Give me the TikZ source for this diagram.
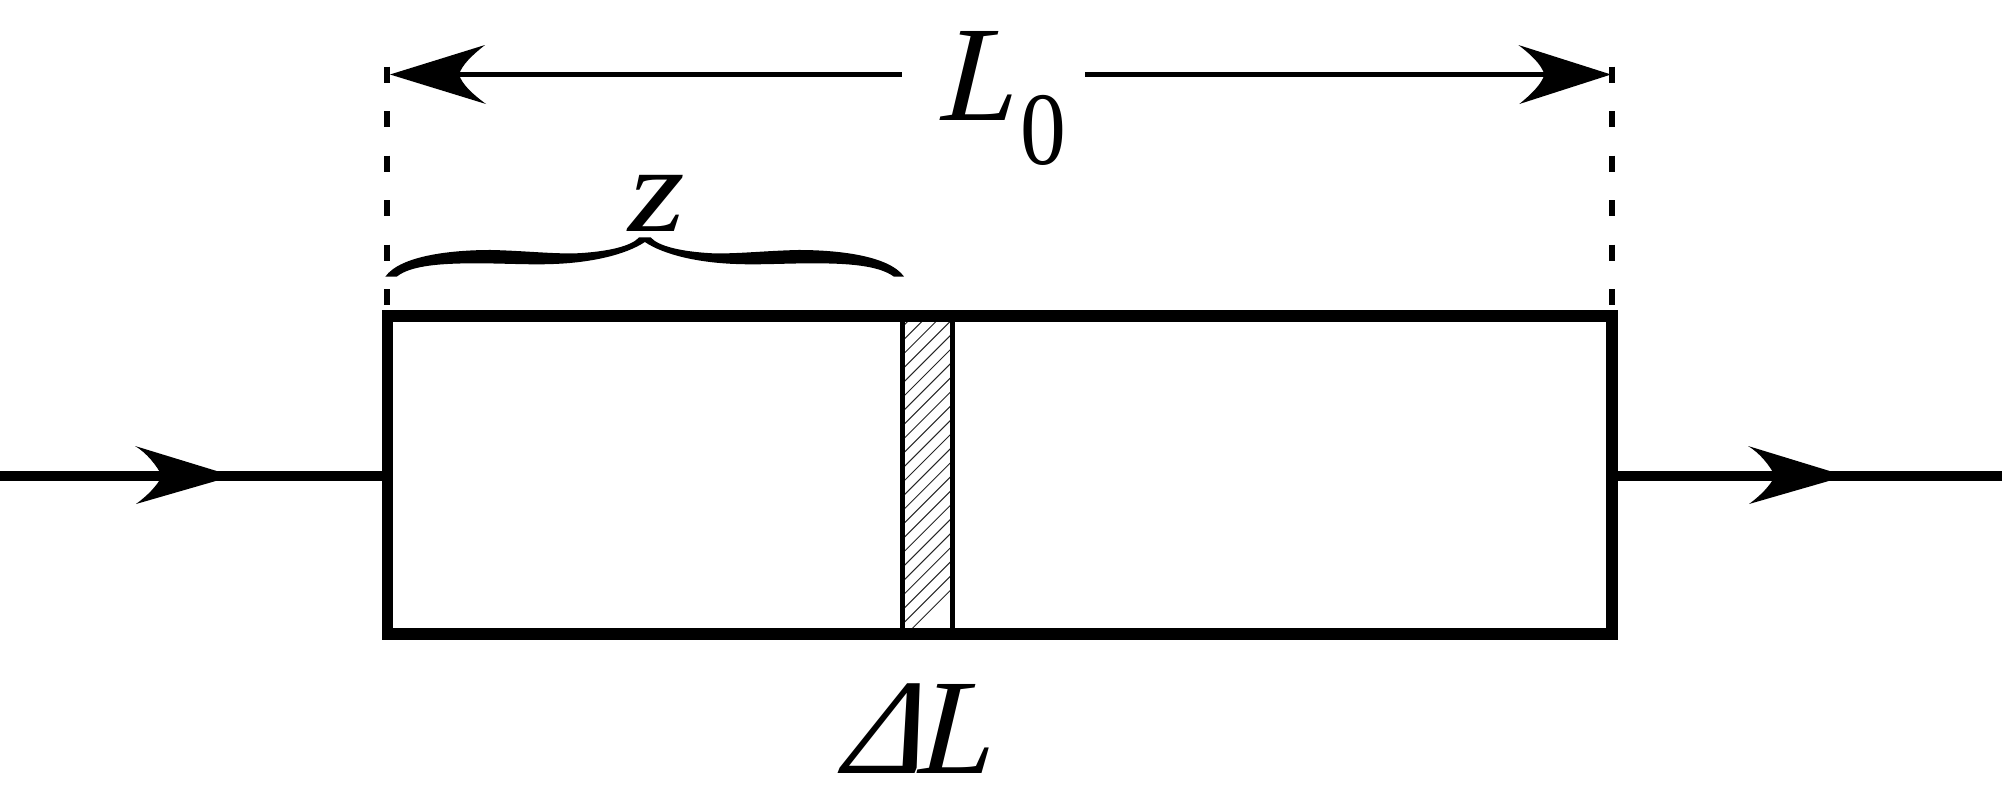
\documentclass[tikz,border=0pt]{standalone}
\usepackage{fontspec}
\setmainfont{Liberation Serif}
\begin{document}
\begin{tikzpicture}[x=1pt,y=-1pt,
  wall/.style={draw=black,line width=11.5pt,miter limit=10},
  piston/.style={draw=black,line width=5.4pt},
  wire/.style={draw=black,line width=10.5pt},
  dim/.style={draw=black,line width=5.5pt},
  guide/.style={draw=black,line width=6pt,dash pattern=on 16pt off 28.5pt},
  hatchline/.style={draw=black!85,line width=1pt},
  bigit/.style={inner sep=0pt,anchor=base west,font=\fontsize{136}{136}\selectfont\itshape},
  bigrm/.style={inner sep=0pt,anchor=base west,font=\fontsize{104}{104}\selectfont},
  midhead/.pic={\fill[black] (0,0) -- (-98,-30) .. controls (-86,-23) and (-76,-10) .. (-71,0) .. controls (-76,10) and (-86,20) .. (-97,28) -- cycle;},
  dimhead/.pic={\fill[black] (0,0) -- (-96,-29.5) .. controls (-83,-20) and (-72,-10) .. (-69,0) .. controls (-72,10) and (-83,20) .. (-95,29.5) -- cycle;}
]
\useasboundingbox (0,0) rectangle (2002,803);
% corners
\coordinate (tl) at (387.5,316);
\coordinate (br) at (1612,634);
\coordinate (wl) at (0,476);
\coordinate (wli) at (382,476);
\coordinate (wri) at (1618,476);
\coordinate (wr) at (2002,476);
\coordinate (tipl) at (390,74.5);
\coordinate (tipr) at (1611,74.5);
\coordinate (dl) at (440,74.5);
\coordinate (dli) at (902,74.5);
\coordinate (dri) at (1085,74.5);
\coordinate (dr) at (1565,74.5);
\coordinate (gl0) at (387,66.5);
\coordinate (gl1) at (387,306);
\coordinate (gr0) at (1612,66.5);
\coordinate (gr1) at (1612,306);
\coordinate (pt1) at (902.6,316);
\coordinate (pb1) at (902.6,634);
\coordinate (pt2) at (952.6,316);
\coordinate (pb2) at (952.6,634);
% hatching
\begin{scope}
  \clip (902.6,316) rectangle (952.6,634);
  \foreach \k in {0,...,26}{
    \draw[hatchline] (890,{650.7-14.16*\k}) -- (960,{580.7-14.16*\k});
  }
\end{scope}
% guides
\draw[guide] (gl0) -- (gl1);
\draw[guide] (gr0) -- (gr1);
% piston
\draw[piston] (pt1) -- (pb1);
\draw[piston] (pt2) -- (pb2);
% box
\draw[wall] (tl) rectangle (br);
% wires
\draw[wire] (wl) -- (wli);
\draw[wire] (wri) -- (wr);
\pic at (233,476) {midhead};
\pic at (1846,476) {midhead};
% dimension
\draw[dim] (dl) -- (dli);
\draw[dim] (dri) -- (dr);
\pic[rotate=180] at (tipl) {dimhead};
\pic[xscale=0.965] at (tipr) {dimhead};
% brace
\begin{scope}[shift={(360,140)},x=0.40816pt,y=-0.3333pt]
  \fill[black] (62,410) .. controls (100,345) and (230,330) .. (320,330)
    .. controls (400,332) and (470,342) .. (530,340)
    .. controls (610,335) and (665,318) .. (684,292)
    -- (712,292)
    .. controls (730,318) and (785,335) .. (865,340)
    .. controls (925,342) and (995,332) .. (1075,330)
    .. controls (1165,330) and (1295,345) .. (1333,410)
    -- (1308,410)
    .. controls (1270,375) and (1190,370) .. (1110,370)
    .. controls (1040,370) and (980,375) .. (920,372)
    .. controls (830,368) and (745,345) .. (698,306)
    .. controls (650,345) and (565,368) .. (475,372)
    .. controls (415,375) and (355,370) .. (285,370)
    .. controls (205,370) and (125,375) .. (90,410) -- cycle;
\end{scope}
% labels
\node[bigit,transform shape,xslant=0.06] (Lzero) at (941,120) {L};
\node[bigrm,transform shape,xscale=0.88] (zero) at (1020,164) {0};
\node[bigit,transform shape,xscale=1.07,yscale=0.9] (zed) at (628,231) {z};
\node[bigit,transform shape,xslant=0.2] (delta) at (842,773) {Δ};
\node[bigit,transform shape,xslant=0.06] (dL) at (918,773) {L};
\end{tikzpicture}
\end{document}
